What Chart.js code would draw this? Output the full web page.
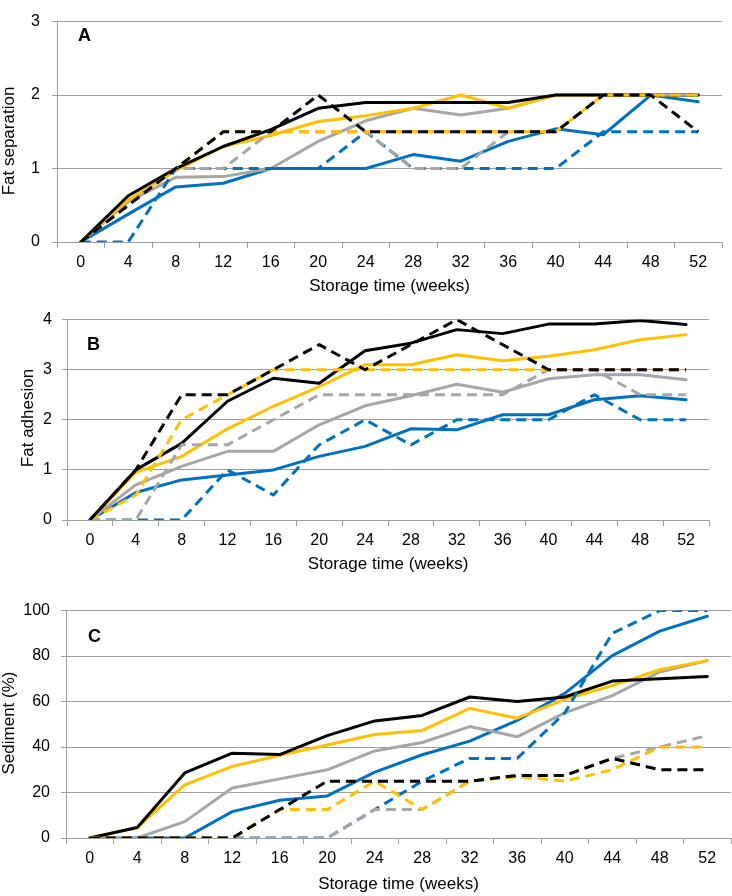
<!DOCTYPE html>
<html>
<head>
<meta charset="utf-8">
<script src="https://cdn.jsdelivr.net/npm/chart.js@4.4.1/dist/chart.umd.min.js"></script>
<style>
  html, body { margin: 0; padding: 0; background: #ffffff; width: 732px; height: 896px; overflow: hidden; }
  .panel { position: absolute; left: 0; width: 732px; }
</style>
</head>
<body>
<div class="panel" style="top:0px;height:300px"><canvas id="chartA"></canvas></div>
<div class="panel" style="top:300px;height:290px"><canvas id="chartB"></canvas></div>
<div class="panel" style="top:590px;height:306px"><canvas id="chartC"></canvas></div>
<script>
// ---------- data ----------
const weeks = ['0', '4', '8', '12', '16', '20', '24', '28', '32', '36', '40', '44', '48', '52'];
const xAxisTitle = 'Storage time (weeks)';

// Panel A – Fat separation
const aBlackSolid  = [0, 0.63, 1.0, 1.3, 1.53, 1.82, 1.9, 1.9, 1.9, 1.9, 2.0, 2.0, 2.0, 2.0];
const aBlackDashed = [0, 0.5, 1.0, 1.5, 1.5, 2.0, 1.5, 1.5, 1.5, 1.5, 1.5, 2.0, 2.0, 1.5];
const aYellowSolid = [0, 0.57, 0.97, 1.3, 1.45, 1.64, 1.72, 1.82, 2.0, 1.82, 2.0, 2.0, 2.0, 2.0];
const aYellowDashed= [0, 0.5, 1.0, 1.5, 1.5, 1.5, 1.5, 1.5, 1.5, 1.5, 1.5, 2.0, 2.0, 2.0];
const aGraySolid   = [0, 0.55, 0.88, 0.89, 1.0, 1.37, 1.65, 1.82, 1.73, 1.82, 2.0, 2.0, 2.0, 2.0];
const aGrayDashed  = [0, 0.5, 1.0, 1.0, 1.5, 1.5, 1.5, 1.0, 1.0, 1.5, 1.5, 2.0, 2.0, 2.0];
const aBlueSolid   = [0, 0.38, 0.75, 0.8, 1.0, 1.0, 1.0, 1.19, 1.1, 1.37, 1.54, 1.46, 2.0, 1.91];
const aBlueDashed  = [0, 0, 1.0, 1.0, 1.0, 1.0, 1.5, 1.0, 1.0, 1.0, 1.0, 1.5, 1.5, 1.5];

// Panel B – Fat adhesion
const bBlackSolid  = [0, 1.0, 1.53, 2.37, 2.83, 2.73, 3.38, 3.53, 3.8, 3.72, 3.91, 3.91, 3.98, 3.9];
const bBlackDashed = [0, 1.0, 2.5, 2.5, 3.0, 3.5, 3.0, 3.5, 4.0, 3.5, 3.0, 3.0, 3.0, 3.0];
const bYellowSolid = [0, 0.95, 1.27, 1.82, 2.27, 2.66, 3.1, 3.1, 3.3, 3.18, 3.27, 3.4, 3.6, 3.7];
const bYellowDashed= [0, 0.5, 2.0, 2.5, 3.0, 3.0, 3.0, 3.0, 3.0, 3.0, 3.0, 3.0, 3.0, 3.0];
const bGraySolid   = [0, 0.7, 1.07, 1.37, 1.37, 1.9, 2.28, 2.48, 2.71, 2.55, 2.82, 2.9, 2.9, 2.8];
const bGrayDashed  = [0, 0, 1.5, 1.5, 2.0, 2.5, 2.5, 2.5, 2.5, 2.5, 3.0, 3.0, 2.5, 2.5];
const bBlueSolid   = [0, 0.55, 0.8, 0.9, 1.0, 1.27, 1.47, 1.82, 1.8, 2.1, 2.1, 2.4, 2.48, 2.4];
const bBlueDashed  = [0, 0, 0, 1.0, 0.5, 1.5, 2.0, 1.5, 2.0, 2.0, 2.0, 2.5, 2.0, 2.0];

// Panel C – Sediment (%)
const cBlackSolid  = [0, 4.6, 28.6, 37.3, 36.7, 45, 51.5, 53.9, 62, 60, 62, 69, 70, 71];
const cBlackDashed = [0, 0, 0, 0, 12.5, 25, 25, 25, 25, 27.5, 27.5, 35, 30, 30];
const cYellowSolid = [0, 4.6, 23.4, 31.5, 36.4, 40.9, 45.5, 47.3, 57, 52.7, 61, 67, 74, 78];
const cYellowDashed= [0, 0, 0, 0, 12.5, 12.5, 25, 12.5, 25, 27, 25, 30, 40, 40];
const cGraySolid   = [0, 0, 7.2, 22, 26, 30, 38.3, 42, 49, 44.5, 55, 62.6, 73, 78];
const cGrayDashed  = [0, 0, 0, 0, 0, 0, 12.5, 12.5, 25, 27.5, 27.5, 35, 40, 45];
const cBlueSolid   = [0, 0, 0, 11.6, 16.6, 18.5, 29, 36.6, 42.6, 51.7, 63.6, 80.2, 91, 97.5];
const cBlueDashed  = [0, 0, 0, 0, 0, 0, 12.5, 25, 35, 35, 55, 90, 100, 100];

// ---------- styling ----------
const COLORS = { black: '#000000', yellow: '#FFC000', gray: '#A6A6A6', blue: '#0070C0' };
const AXIS_GRAY = '#9E9E9E';
const FONT_FAMILY = '"Liberation Sans", Arial, Helvetica, sans-serif';
Chart.defaults.font.family = FONT_FAMILY;
Chart.defaults.color = '#000000';

const panelText = {
  id: 'panelText',
  afterDraw(chart, args, opts) {
    const ctx = chart.ctx;
    ctx.save();
    ctx.fillStyle = '#000000';
    ctx.textBaseline = 'alphabetic';
    ctx.textAlign = 'left';
    ctx.font = 'bold 18px ' + FONT_FAMILY;
    ctx.fillText(opts.letter, opts.letterX, opts.letterY);
    ctx.font = '17px ' + FONT_FAMILY;
    ctx.translate(opts.titleX, opts.titleY);
    ctx.rotate(-Math.PI / 2);
    ctx.textAlign = 'center';
    ctx.fillText(opts.title, 0, 0);
    ctx.restore();
  }
};

function ds(data, color, dashed) {
  return {
    data: data,
    borderColor: color,
    backgroundColor: color,
    borderWidth: 3,
    borderDash: dashed ? [10, 6] : [],
    borderCapStyle: dashed ? 'butt' : 'round',
    borderJoinStyle: 'round',
    pointRadius: 0,
    pointHoverRadius: 0,
    tension: 0,
    fill: false
  };
}

function makePanel(id, series, yMax, step, g) {
  // first dataset is drawn on top
  const datasets = [
    ds(series[1], COLORS.black, true),
    ds(series[3], COLORS.yellow, true),
    ds(series[5], COLORS.gray, true),
    ds(series[7], COLORS.blue, true),
    ds(series[0], COLORS.black, false),
    ds(series[2], COLORS.yellow, false),
    ds(series[4], COLORS.gray, false),
    ds(series[6], COLORS.blue, false)
  ];
  new Chart(document.getElementById(id), {
    type: 'line',
    data: { labels: weeks, datasets: datasets },
    plugins: [panelText],
    options: {
      responsive: true,
      maintainAspectRatio: false,
      animation: false,
      events: [],
      layout: { padding: { top: g.top, right: 732 - g.right, left: 0, bottom: 0 } },
      plugins: {
        legend: { display: false },
        tooltip: { enabled: false },
        panelText: g.text
      },
      scales: {
        x: {
          type: 'category',
          offset: true,
          grid: { display: true, drawOnChartArea: false, offset: true, drawTicks: true, tickLength: 6, color: AXIS_GRAY, lineWidth: 1 },
          border: { display: true, color: AXIS_GRAY, width: 1 },
          ticks: { font: { size: 16 }, color: '#000', padding: 5, maxRotation: 0, autoSkip: false },
          title: { display: true, text: xAxisTitle, font: { size: 17 }, color: '#000', padding: { top: 0, bottom: g.titlePad } },
          afterFit(scale) { scale.height = g.height - g.bottom; }
        },
        y: {
          min: 0, max: yMax,
          ticks: { stepSize: step, font: { size: 16 }, color: '#000', padding: g.yPad },
          grid: { display: true, drawOnChartArea: true, drawTicks: true, tickLength: 5, color: AXIS_GRAY, lineWidth: 1 },
          border: { display: true, color: AXIS_GRAY, width: 1 },
          afterFit(scale) { scale.width = g.left; }
        }
      }
    }
  });
}

makePanel('chartA',
  [aBlackSolid, aBlackDashed, aYellowSolid, aYellowDashed, aGraySolid, aGrayDashed, aBlueSolid, aBlueDashed],
  3, 1,
  { top: 9, bottom: 242, left: 57, right: 722, height: 300, titlePad: 3, yPad: 12,
    text: { letter: 'A', letterX: 78, letterY: 41, title: 'Fat separation', titleX: 14, titleY: 141 } });

makePanel('chartB',
  [bBlackSolid, bBlackDashed, bYellowSolid, bYellowDashed, bGraySolid, bGrayDashed, bBlueSolid, bBlueDashed],
  4, 1,
  { top: 16, bottom: 220, left: 67, right: 709, height: 290, titlePad: 15, yPad: 10,
    text: { letter: 'B', letterX: 87, letterY: 50, title: 'Fat adhesion', titleX: 33, titleY: 118 } });

makePanel('chartC',
  [cBlackSolid, cBlackDashed, cYellowSolid, cYellowDashed, cGraySolid, cGrayDashed, cBlueSolid, cBlueDashed],
  100, 20,
  { top: 18, bottom: 248, left: 66, right: 731, height: 306, titlePad: 1, yPad: 11,
    text: { letter: 'C', letterX: 88, letterY: 52, title: 'Sediment (%)', titleX: 14, titleY: 133 } });
</script>
</body>
</html>
